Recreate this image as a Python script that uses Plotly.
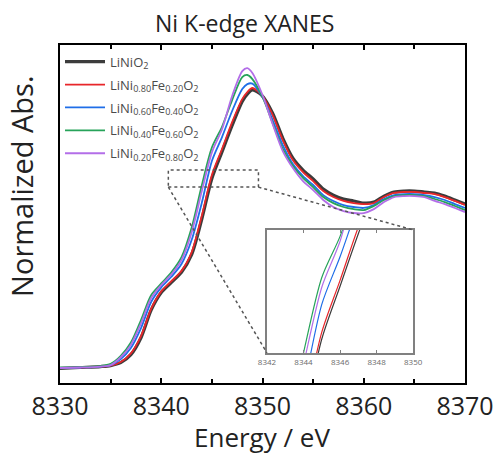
import plotly.graph_objects as go

energy = [8330, 8332, 8334, 8335, 8336, 8337, 8338, 8339, 8340, 8341, 8342, 8343, 8344, 8345,
          8346, 8347, 8348, 8348.5, 8349, 8350, 8351, 8352, 8353, 8354, 8355, 8356, 8357, 8358,
          8359, 8360, 8361, 8362, 8363, 8364, 8365, 8366, 8367, 8368, 8369, 8370]

lini = [-0.003, 0.003, 0.009, 0.015, 0.033, 0.082, 0.186, 0.355, 0.463, 0.525, 0.587, 0.695, 0.912, 1.163,
        1.326, 1.488, 1.636, 1.680, 1.706, 1.669, 1.564, 1.411, 1.288, 1.215, 1.160, 1.098, 1.061, 1.037,
        1.025, 1.012, 1.018, 1.055, 1.080, 1.086, 1.086, 1.080, 1.074, 1.055, 1.031, 1.006]
fe20 = [0.000, 0.003, 0.009, 0.015, 0.037, 0.090, 0.196, 0.363, 0.470, 0.533, 0.596, 0.710, 0.933, 1.184,
        1.344, 1.509, 1.650, 1.693, 1.718, 1.669, 1.552, 1.399, 1.276, 1.202, 1.147, 1.086, 1.049, 1.025,
        1.012, 1.006, 1.012, 1.049, 1.074, 1.080, 1.080, 1.074, 1.067, 1.049, 1.025, 1.000]
fe40 = [0.000, 0.003, 0.009, 0.018, 0.055, 0.123, 0.245, 0.405, 0.495, 0.560, 0.638, 0.785, 1.012, 1.270,
        1.417, 1.577, 1.712, 1.742, 1.745, 1.663, 1.521, 1.368, 1.252, 1.178, 1.123, 1.061, 1.025, 1.000,
        0.988, 0.982, 1.000, 1.037, 1.061, 1.067, 1.067, 1.061, 1.049, 1.031, 1.006, 0.982]
fe60 = [0.003, 0.006, 0.012, 0.025, 0.074, 0.156, 0.294, 0.447, 0.519, 0.587, 0.680, 0.860, 1.120, 1.353,
        1.480, 1.644, 1.785, 1.798, 1.773, 1.663, 1.503, 1.344, 1.239, 1.166, 1.110, 1.049, 1.012, 0.988,
        0.975, 0.969, 0.994, 1.031, 1.055, 1.061, 1.061, 1.055, 1.037, 1.018, 0.994, 0.969]
fe80 = [0.000, 0.003, 0.009, 0.018, 0.066, 0.142, 0.274, 0.429, 0.509, 0.575, 0.662, 0.832, 1.084, 1.323,
        1.465, 1.669, 1.822, 1.840, 1.810, 1.675, 1.497, 1.331, 1.227, 1.147, 1.092, 1.031, 0.988, 0.963,
        0.951, 0.951, 0.975, 1.018, 1.049, 1.055, 1.055, 1.049, 1.025, 1.006, 0.982, 0.957]

names = ["LiNiO<sub>2</sub>",
         "LiNi<sub>0.80</sub>Fe<sub>0.20</sub>O<sub>2</sub>",
         "LiNi<sub>0.60</sub>Fe<sub>0.40</sub>O<sub>2</sub>",
         "LiNi<sub>0.40</sub>Fe<sub>0.60</sub>O<sub>2</sub>",
         "LiNi<sub>0.20</sub>Fe<sub>0.80</sub>O<sub>2</sub>"]
series = [lini, fe20, fe40, fe60, fe80]
colors = ["#3c3c3c", "#e8262a", "#1f6ee8", "#27a35a", "#b36ee8"]
widths = [3.2, 1.8, 1.8, 1.8, 1.8]

main_ticks = [8330, 8340, 8350, 8360, 8370]
inset_ticks = [8342, 8344, 8346, 8348, 8350]

XR = [8330, 8370]
YR = [-0.092, 1.982]
INX = [0.511, 0.872]
INY = [0.089, 0.453]
INYR = [1.12, 1.50]
box_x = [8340.7, 8349.6]
box_y = [1.11, 1.215]

FONT = "Open Sans"

fig = go.Figure()
for i, (n, s, c, w) in enumerate(zip(names, series, colors, widths)):
    fig.add_trace(go.Scatter(x=energy, y=s, mode="lines", name=n, legendgroup=str(i),
                             line=dict(color=c, width=w, shape="spline", smoothing=0.8),
                             xaxis="x", yaxis="y"))
for i, (n, s, c) in enumerate(zip(names, series, colors)):
    fig.add_trace(go.Scatter(x=energy, y=s, mode="lines", showlegend=False,
                             line=dict(color=c, width=1.2, shape="spline", smoothing=0.8),
                             xaxis="x2", yaxis="y2"))


def dx(p):
    return XR[0] + p * (XR[1] - XR[0])


def dy(p):
    return YR[0] + p * (YR[1] - YR[0])


shapes = [
    dict(type="rect", xref="x", yref="y", x0=box_x[0], x1=box_x[1], y0=box_y[0], y1=box_y[1],
         line=dict(color="#555555", width=1.5, dash="dot")),
    dict(type="line", xref="x", yref="y", x0=box_x[0], y0=box_y[0], x1=dx(INX[0]), y1=dy(INY[0]),
         line=dict(color="#555555", width=1.5, dash="dot")),
    dict(type="line", xref="x", yref="y", x0=box_x[1], y0=box_y[0], x1=dx(INX[1]), y1=dy(INY[1]),
         line=dict(color="#555555", width=1.5, dash="dot")),
]

fig.update_layout(
    width=497, height=454,
    margin=dict(l=60, r=32, t=45, b=71, autoexpand=False),
    paper_bgcolor="white", plot_bgcolor="white",
    font=dict(family=FONT, color="#222222"),
    showlegend=True,
    legend=dict(x=0.0, y=0.995, xanchor="left", yanchor="top", bgcolor="rgba(0,0,0,0)",
                font=dict(size=13, color="#4a4a4a", family=FONT), tracegroupgap=3, itemwidth=40),
    xaxis=dict(domain=[0, 1], range=XR, showline=True, linecolor="black", linewidth=2, mirror="ticks",
               ticks="inside", ticklen=5, tickwidth=2, tickcolor="black", tickvals=main_ticks,
               tickfont=dict(size=25, color="#222222"), showgrid=False, zeroline=False, automargin=False,
               minor=dict(ticks="inside", ticklen=4, tickwidth=1.5, dtick=5, tick0=8330, tickcolor="black")),
    yaxis=dict(domain=[0, 1], range=YR, showline=True, linecolor="black", linewidth=2, mirror=True,
               ticks="", showticklabels=False, showgrid=False, zeroline=False, automargin=False),
    xaxis2=dict(domain=INX, range=[inset_ticks[0], inset_ticks[-1]], anchor="y2", showline=True,
                linecolor="#808080", linewidth=2, mirror="ticks", ticks="inside", ticklen=3,
                tickcolor="#808080", tickvals=inset_ticks, tickfont=dict(size=8, color="#6b6b6b"),
                showgrid=False, zeroline=False, automargin=False),
    yaxis2=dict(domain=INY, range=INYR, anchor="x2", showline=True, linecolor="#808080", linewidth=2,
                mirror=True, ticks="", showticklabels=False, showgrid=False, zeroline=False, automargin=False),
    shapes=shapes,
    annotations=[
        dict(text="Ni K-edge XANES", xref="paper", yref="paper", x=0.456, y=1.065, showarrow=False,
             xanchor="center", yanchor="middle", font=dict(size=23, color="#222222")),
        dict(text="Energy / eV", xref="paper", yref="paper", x=0.499, y=-0.159, showarrow=False,
             xanchor="center", yanchor="middle", font=dict(size=26, color="#222222")),
        dict(text="Normalized Abs.", xref="paper", yref="paper", x=-0.094, y=0.583, showarrow=False,
             xanchor="center", yanchor="middle", textangle=-90, font=dict(size=29, color="#222222")),
    ],
)

fig.write_html("out.html",
               config={"displayModeBar": False, "responsive": False},
               post_script="document.documentElement.style.overflow='hidden';"
                           "document.body.style.overflow='hidden';"
                           "document.body.style.margin='0';document.body.style.padding='0';")
